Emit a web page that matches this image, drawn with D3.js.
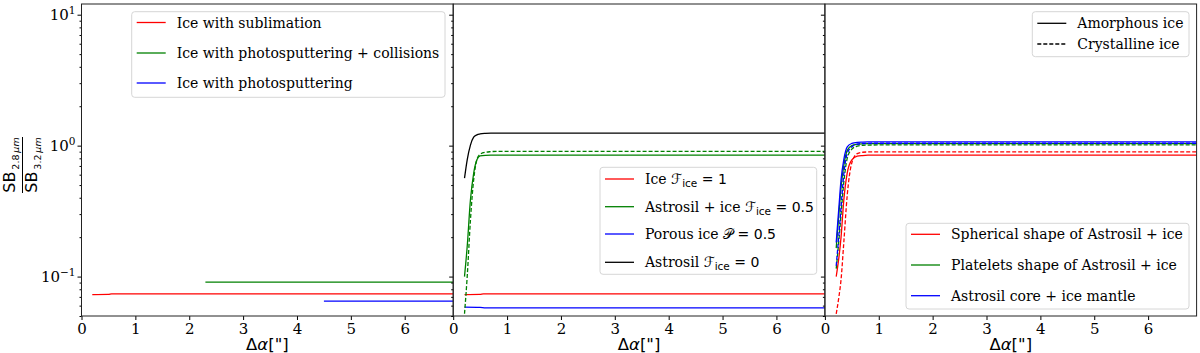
<!DOCTYPE html>
<html>
<head>
<meta charset="utf-8">
<title>SB ratio</title>
<script src="https://cdnjs.cloudflare.com/ajax/libs/d3/7.8.5/d3.min.js"></script>
<style>
  body { margin: 0; background: #fff; }
  svg { display: block; }
  .serif { font-family: "DejaVu Serif", serif; }
  .sans { font-family: "DejaVu Sans", sans-serif; }
</style>
</head>
<body>
<script>
// ---- data ----
const xTicks = [0, 1, 2, 3, 4, 5, 6];
const yMajor = [0.1, 1, 10];
const yTickLabels = [["10", "\u22121"], ["10", "0"], ["10", "1"]];
const xMax = 6.9;

// panel 1: flat ratio lines
const sublimation = [[0.2, 0.0729], [0.5, 0.0731], [0.56, 0.0739], [6.9, 0.0739]];
const sputterCollisions = [[2.3, 0.0906], [6.9, 0.0906]];
const sputtering = [[4.5, 0.0649], [6.9, 0.0649]];

// panel 2
const curveX2 = [0.21, 0.26, 0.32, 0.38, 0.44, 0.5, 0.6, 0.7, 0.8, 1.0, 6.9];
const astrosilOnly = [0.564, 0.78, 1.01, 1.16, 1.21, 1.228, 1.24, 1.245, 1.245, 1.245, 1.245];
const astrosilIce = [0.10, 0.17, 0.385, 0.615, 0.78, 0.835, 0.843, 0.845, 0.845, 0.845, 0.845];
const astrosilIceCryst = [0.052, 0.10, 0.27, 0.55, 0.78, 0.86, 0.89, 0.90, 0.905, 0.905, 0.905];
const pureIce = [[0.21, 0.0729], [0.5, 0.0731], [0.56, 0.0738], [6.9, 0.0738]];
const porousIce = [[0.21, 0.0584], [0.5, 0.0581], [0.6, 0.0576], [6.9, 0.0576]];

// panel 3
const curveX3 = [0.21, 0.26, 0.3, 0.35, 0.415, 0.5, 0.6, 0.7, 0.8, 1.0, 6.9];
const sphereAmor = [0.10, 0.14, 0.2, 0.38, 0.62, 0.78, 0.83, 0.84, 0.845, 0.845, 0.845];
const sphereCryst = [0.052, 0.07, 0.095, 0.18, 0.42, 0.74, 0.87, 0.89, 0.895, 0.895, 0.895];
const plateAmor = [0.165, 0.3, 0.48, 0.7, 0.92, 1.0, 1.025, 1.033, 1.036, 1.036, 1.036];
const plateCryst = [0.115, 0.19, 0.3, 0.52, 0.8, 0.94, 0.99, 1.005, 1.01, 1.012, 1.012];
const coreAmor = [0.182, 0.34, 0.55, 0.78, 0.98, 1.04, 1.06, 1.065, 1.067, 1.067, 1.067];
const coreCryst = [0.121, 0.21, 0.34, 0.6, 0.87, 0.98, 1.025, 1.038, 1.042, 1.043, 1.043];

// ---- layout ----
const W = 1200, H = 353;
const plotLeft = 81.5, plotTop = 4, plotBottom = 316, panelW = 371.7;

const svg = d3.select("body").append("svg").attr("width", W).attr("height", H);

const y = d3.scaleLog().domain([0.05, 12.07]).range([plotBottom, plotTop]);
const line = d3.line().x(d => d[0]).y(d => d[1]).curve(d3.curveMonotoneX);

const panels = [0, 1, 2].map(i => {
  const x0 = plotLeft + i * panelW;
  const x = d3.scaleLinear().domain([0, xMax]).range([x0, x0 + panelW]);
  const g = svg.append("g");
  svg.append("clipPath").attr("id", "clip" + i)
    .append("rect").attr("x", x0).attr("y", plotTop).attr("width", panelW).attr("height", plotBottom - plotTop);
  return {x, g, x0, i};
});

function drawSeries(p, pts, color, dashed) {
  p.g.append("path")
    .attr("clip-path", `url(#clip${p.i})`)
    .attr("d", line(pts.map(d => [p.x(d[0]), y(d[1])])))
    .attr("fill", "none").attr("stroke", color).attr("stroke-width", 1.3)
    .attr("stroke-dasharray", dashed ? "4,2" : null);
}
const zipX = (xs, ys) => xs.map((v, k) => [v, ys[k]]);

// panel 1
drawSeries(panels[0], sublimation, "red");
drawSeries(panels[0], sputterCollisions, "green");
drawSeries(panels[0], sputtering, "blue");
// panel 2
drawSeries(panels[1], pureIce, "red");
drawSeries(panels[1], porousIce, "blue");
drawSeries(panels[1], zipX(curveX2, astrosilIce), "green");
drawSeries(panels[1], zipX(curveX2, astrosilIceCryst), "green", true);
drawSeries(panels[1], zipX(curveX2, astrosilOnly), "black");
// panel 3
drawSeries(panels[2], zipX(curveX3, sphereAmor), "red");
drawSeries(panels[2], zipX(curveX3, sphereCryst), "red", true);
drawSeries(panels[2], zipX(curveX3, plateAmor), "green");
drawSeries(panels[2], zipX(curveX3, plateCryst), "green", true);
drawSeries(panels[2], zipX(curveX3, coreAmor), "blue");
drawSeries(panels[2], zipX(curveX3, coreCryst), "blue", true);

// axes
const minorTicks = [];
[0.01, 0.1, 1].forEach(d => { for (let k = 2; k <= 9; k++) minorTicks.push(d * k); });
const minorIn = minorTicks.filter(v => v >= 0.05 && v <= 12);

panels.forEach(p => {
  const ax = p.g.append("g").attr("transform", `translate(0,${plotBottom})`)
    .call(d3.axisBottom(p.x).tickValues(xTicks).tickSize(4).tickPadding(3).tickFormat(d3.format("d")));
  ax.select(".domain").remove();
  ax.selectAll("text").attr("class", "serif").attr("font-size", 15).attr("fill", "#000");

  const ay = p.g.append("g").attr("transform", `translate(${p.x0},0)`)
    .call(d3.axisLeft(y).tickValues(yMajor).tickSize(4).tickPadding(2).tickFormat(""));
  ay.select(".domain").remove();
  const am = p.g.append("g").attr("transform", `translate(${p.x0},0)`)
    .call(d3.axisLeft(y).tickValues(minorIn).tickSize(2).tickFormat(""));
  am.select(".domain").remove();

  if (p.i === 0) {
    ay.selectAll(".tick text").each(function(d, k) {
      const t = d3.select(this).attr("class", "serif").attr("font-size", 15).attr("fill", "#000");
      t.append("tspan").text(yTickLabels[k][0]);
      t.append("tspan").attr("font-size", 10.5).attr("dy", -6).text(yTickLabels[k][1]);
    });
  }

  p.g.append("text").attr("class", "sans").attr("font-size", 16.5)
    .attr("x", p.x0 + panelW / 2).attr("y", 350).attr("text-anchor", "middle")
    .call(t => {
      t.append("tspan").text("\u0394");
      t.append("tspan").attr("font-style", "italic").text("\u03b1");
      t.append("tspan").text("[\"]");
    });

  p.g.append("rect").attr("x", p.x0).attr("y", plotTop).attr("width", panelW).attr("height", plotBottom - plotTop)
    .attr("fill", "none").attr("stroke", "#222").attr("stroke-width", 1);
});

// y label (fraction)
const yl = svg.append("g").attr("transform", "translate(22,165) rotate(-90)").attr("class", "sans");
[["2.8", -7], ["3.2", 14.7]].forEach(([w, dy]) => {
  const t = yl.append("text").attr("x", 0).attr("y", dy).attr("text-anchor", "middle").attr("font-size", 16);
  t.append("tspan").text("SB");
  t.append("tspan").attr("font-size", 9.5).attr("dy", 4).text("\u2009" + w + "\u2009");
  t.append("tspan").attr("font-size", 9.5).attr("font-style", "italic").text("\u03bcm");
});
yl.append("line").attr("x1", -28).attr("x2", 28).attr("y1", 0.5).attr("y2", 0.5)
  .attr("stroke", "#000").attr("stroke-width", 1);

// legends
const F = [{t: "\u2131", f: "DejaVu Sans", it: true}, {t: "ice", sub: true, f: "DejaVu Sans"}];
const legend1 = [
  {c: "red", parts: [{t: "Ice with sublimation"}]},
  {c: "green", parts: [{t: "Ice with photosputtering + collisions"}]},
  {c: "blue", parts: [{t: "Ice with photosputtering"}]}
];
const legend2 = [
  {c: "red", parts: [{t: "Ice "}, ...F, {t: " = 1", f: "DejaVu Sans"}]},
  {c: "green", parts: [{t: "Astrosil + ice "}, ...F, {t: " = 0.5", f: "DejaVu Sans"}]},
  {c: "blue", parts: [{t: "Porous ice "}, {t: "\u{1D4AB}", f: "DejaVu Sans"}, {t: " = 0.5", f: "DejaVu Sans"}]},
  {c: "black", parts: [{t: "Astrosil "}, ...F, {t: " = 0", f: "DejaVu Sans"}]}
];
const legend3a = [
  {c: "black", parts: [{t: "Amorphous ice"}]},
  {c: "black", dash: true, parts: [{t: "Crystalline ice"}]}
];
const legend3b = [
  {c: "red", parts: [{t: "Spherical shape of Astrosil + ice"}]},
  {c: "green", parts: [{t: "Platelets shape of Astrosil + ice"}]},
  {c: "blue", parts: [{t: "Astrosil core + ice mantle"}]}
];

function drawLegend(entries, bx, by, bw, bh, ys) {
  const g = svg.append("g");
  g.append("rect").attr("x", bx).attr("y", by).attr("width", bw).attr("height", bh)
    .attr("rx", 3).attr("fill", "#fff").attr("fill-opacity", 0.8)
    .attr("stroke", "#d6d6d6").attr("stroke-width", 1);
  entries.forEach((e, k) => {
    const cy = ys[k];
    g.append("line").attr("x1", bx + 5).attr("x2", bx + 34).attr("y1", cy).attr("y2", cy)
      .attr("stroke", e.c).attr("stroke-width", 1.3).attr("stroke-dasharray", e.dash ? "4,2" : null);
    const t = g.append("text").attr("x", bx + 45).attr("y", cy + 5).attr("font-size", 14)
      .attr("class", "serif");
    let shifted = false;
    e.parts.forEach(p => {
      const s = t.append("tspan").text(p.t);
      if (p.f) s.attr("font-family", p.f);
      if (p.it) s.attr("font-style", "italic");
      if (p.sub) { s.attr("font-size", 10.5).attr("dy", 3); shifted = true; }
      else if (shifted) { s.attr("dy", -3); shifted = false; }
    });
  });
}
drawLegend(legend1, 131.7, 11.7, 313.3, 85.6, [22.5, 53, 83]);
drawLegend(legend2, 600, 167.3, 216.7, 107, [179, 206.7, 234, 262.3]);
drawLegend(legend3a, 1032.3, 11.7, 156.7, 45, [23.3, 44]);
drawLegend(legend3b, 906, 223.3, 283, 85.7, [234.3, 265, 295.7]);
</script>
</body>
</html>
